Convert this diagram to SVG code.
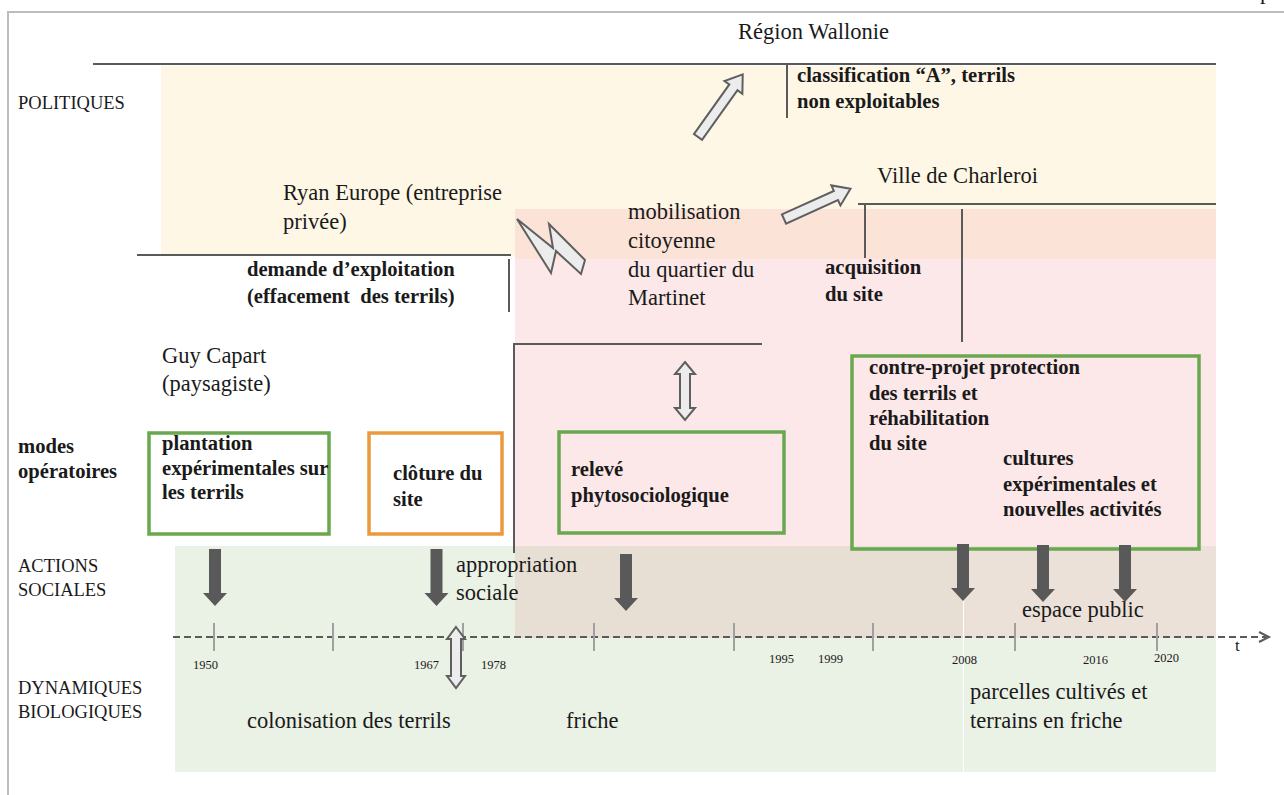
<svg xmlns="http://www.w3.org/2000/svg" width="1284" height="795" viewBox="0 0 1284 795">
  <defs>
    <style>
      text { font-family: "Liberation Serif", "Times New Roman", serif; fill: #1a1a1a; }
      .r { font-size: 22.5px; }
      .b { font-size: 20.6px; font-weight: bold; }
      .cap { font-size: 18.5px; }
      .yr { font-size: 12.5px; }
      .rule { stroke: #5a5a5a; stroke-width: 2; fill: none; }
      .frame { stroke: #bdbdbd; stroke-width: 2; fill: none; }
      .tick { stroke: #a0a0a0; stroke-width: 2; }
      .light { fill: #ececec; stroke: #5f5f5f; stroke-width: 2; stroke-linejoin: miter; }
      .dark { fill: #595959; }
      .gbox { fill: none; stroke: #6aa84f; stroke-width: 3.5; }
      .obox { fill: #ffffff; stroke: #ea9a3d; stroke-width: 3.5; }
      .wbox { fill: #ffffff; stroke: #6aa84f; stroke-width: 3.5; }
    </style>
    <path id="darr" d="M-6,-57 H6 V-13 H12 L0,0 L-12,-13 H-6 Z"/>
  </defs>

  <rect width="1284" height="795" fill="#ffffff"/>

  <!-- page frame -->
  <g id="frame">
    <path class="frame" d="M8,795 V12 H1284"/>
    <text class="r" x="1260" y="-1">p</text>
  </g>

  <!-- background bands -->
  <g id="bands">
    <rect x="161" y="66" width="1055" height="190" fill="#fef7e6"/>
    <rect x="515" y="209" width="701" height="50" fill="#fbe3d8"/>
    <rect x="515" y="259" width="701" height="287" fill="#fce8e8"/>
    <rect x="175" y="546" width="788" height="226" fill="#eaf1e5"/>
    <rect x="964" y="546" width="252" height="226" fill="#eaf1e5"/>
    <rect x="515" y="546" width="448" height="92" fill="#e7dfd3"/>
    <rect x="964" y="546" width="252" height="92" fill="#ece1d9"/>
  </g>

  <!-- structure rules -->
  <g id="rules">
    <line class="rule" x1="93" y1="64" x2="1216" y2="64"/>
    <line class="rule" x1="787" y1="64" x2="787" y2="118"/>
    <line class="rule" x1="137" y1="255" x2="511" y2="255"/>
    <line class="rule" x1="509" y1="259" x2="509" y2="312"/>
    <line class="rule" x1="858" y1="204" x2="1216" y2="204"/>
    <line class="rule" x1="865" y1="204" x2="865" y2="258"/>
    <line class="rule" x1="962" y1="209" x2="962" y2="342"/>
    <path class="rule" d="M514,553 V344 H762"/>
  </g>

  <!-- row labels -->
  <g id="row-labels">
    <text class="cap" x="18" y="109">POLITIQUES</text>
    <text class="b" x="18" y="453">modes</text>
    <text class="b" x="18" y="478">opératoires</text>
    <text class="cap" x="18" y="572">ACTIONS</text>
    <text class="cap" x="18" y="596">SOCIALES</text>
    <text class="cap" x="18" y="694">DYNAMIQUES</text>
    <text class="cap" x="18" y="718">BIOLOGIQUES</text>
  </g>

  <!-- actors -->
  <g id="region-wallonie">
    <text class="r" x="738" y="39">Région Wallonie</text>
  </g>
  <g id="classification">
    <text class="b" x="797" y="82">classification “A”, terrils</text>
    <text class="b" x="797" y="108">non exploitables</text>
  </g>
  <g id="ryan-europe">
    <text class="r" x="283" y="200">Ryan Europe (entreprise</text>
    <text class="r" x="283" y="229">privée)</text>
  </g>
  <g id="demande">
    <text class="b" x="247" y="276">demande d’exploitation</text>
    <text class="b" x="247" y="303" xml:space="preserve">(effacement  des terrils)</text>
  </g>
  <g id="ville-charleroi">
    <text class="r" x="877" y="183">Ville de Charleroi</text>
  </g>
  <g id="acquisition">
    <text class="b" x="825" y="274">acquisition</text>
    <text class="b" x="825" y="301">du site</text>
  </g>
  <g id="mobilisation">
    <text class="r" x="628" y="219">mobilisation</text>
    <text class="r" x="628" y="248">citoyenne</text>
    <text class="r" x="628" y="277">du quartier du</text>
    <text class="r" x="628" y="305">Martinet</text>
  </g>
  <g id="guy-capart">
    <text class="r" x="162" y="363">Guy Capart</text>
    <text class="r" x="162" y="391">(paysagiste)</text>
  </g>

  <!-- operating modes -->
  <g id="plantation">
    <rect class="wbox" x="149" y="433" width="180" height="101"/>
    <text class="b" x="162" y="450">plantation</text>
    <text class="b" x="162" y="475">expérimentales sur</text>
    <text class="b" x="162" y="499">les terrils</text>
  </g>
  <g id="cloture">
    <rect class="obox" x="369" y="433" width="133" height="101"/>
    <text class="b" x="393" y="480">clôture du</text>
    <text class="b" x="393" y="506">site</text>
  </g>
  <g id="releve">
    <rect class="gbox" x="559" y="432" width="225" height="101"/>
    <text class="b" x="571" y="476">relevé</text>
    <text class="b" x="571" y="502">phytosociologique</text>
  </g>
  <g id="contre-projet">
    <rect class="gbox" x="852" y="356" width="347" height="193"/>
    <text class="b" x="869" y="374">contre-projet protection</text>
    <text class="b" x="869" y="400">des terrils et</text>
    <text class="b" x="869" y="425">réhabilitation</text>
    <text class="b" x="869" y="450">du site</text>
    <text class="b" x="1003" y="465">cultures</text>
    <text class="b" x="1003" y="491">expérimentales et</text>
    <text class="b" x="1003" y="516">nouvelles activités</text>
  </g>

  <!-- social and biological outcomes -->
  <g id="appropriation">
    <text class="r" x="456" y="572">appropriation</text>
    <text class="r" x="456" y="600">sociale</text>
  </g>
  <g id="espace-public">
    <text class="r" x="1022" y="617">espace public</text>
  </g>
  <g id="colonisation">
    <text class="r" x="247" y="728">colonisation des terrils</text>
  </g>
  <g id="friche">
    <text class="r" x="566" y="728">friche</text>
  </g>
  <g id="parcelles">
    <text class="r" x="970" y="699">parcelles cultivés et</text>
    <text class="r" x="970" y="728">terrains en friche</text>
  </g>

  <!-- time axis -->
  <g id="timeline">
    <line x1="173" y1="637" x2="1266" y2="637" stroke="#5a5a5a" stroke-width="2" stroke-dasharray="7 4"/>
    <polyline points="1259,632 1269,637 1259,642" fill="none" stroke="#5a5a5a" stroke-width="2"/>
    <line class="tick" x1="214" y1="623" x2="214" y2="651"/>
    <line class="tick" x1="333" y1="623" x2="333" y2="651"/>
    <line class="tick" x1="463" y1="623" x2="463" y2="651"/>
    <line class="tick" x1="594" y1="623" x2="594" y2="651"/>
    <line class="tick" x1="734" y1="623" x2="734" y2="651"/>
    <line class="tick" x1="873" y1="623" x2="873" y2="651"/>
    <line class="tick" x1="1015" y1="623" x2="1015" y2="651"/>
    <line class="tick" x1="1157" y1="623" x2="1157" y2="651"/>
    <text class="yr" x="193" y="669">1950</text>
    <text class="yr" x="414" y="669">1967</text>
    <text class="yr" x="481" y="669">1978</text>
    <text class="yr" x="769" y="663">1995</text>
    <text class="yr" x="818" y="663">1999</text>
    <text class="yr" x="952" y="664">2008</text>
    <text class="yr" x="1083" y="664">2016</text>
    <text class="yr" x="1154" y="662">2020</text>
    <text class="r" x="1235" y="651" style="font-size:17px">t</text>
  </g>

  <!-- connectors -->
  <g id="connectors">
    <polygon class="light" transform="translate(698,137) rotate(-54.5)" points="0,-5 61,-5 61,-11 77,0 61,11 61,5 0,5"/>
    <polygon class="light" transform="translate(784,219) rotate(-24.4)" points="0,-5 57,-5 57,-11 73,0 57,11 57,5 0,5"/>
    <polygon class="light" points="517,219 551,273 556,251 581,274 585,260 549,224 553,248"/>
    <polygon class="light" points="685,362 695,374 690,374 690,408 695,408 685,420 675,408 680,408 680,374 675,374"/>
    <polygon class="light" points="456,627 465,639 461,639 461,676 465,676 456,688 447,676 451,676 451,639 447,639"/>
    <use href="#darr" class="dark" x="215" y="606"/>
    <use href="#darr" class="dark" x="436.5" y="606"/>
    <use href="#darr" class="dark" x="626" y="611"/>
    <use href="#darr" class="dark" x="963" y="601"/>
    <use href="#darr" class="dark" x="1043" y="602"/>
    <use href="#darr" class="dark" x="1125" y="602"/>
  </g>
</svg>
